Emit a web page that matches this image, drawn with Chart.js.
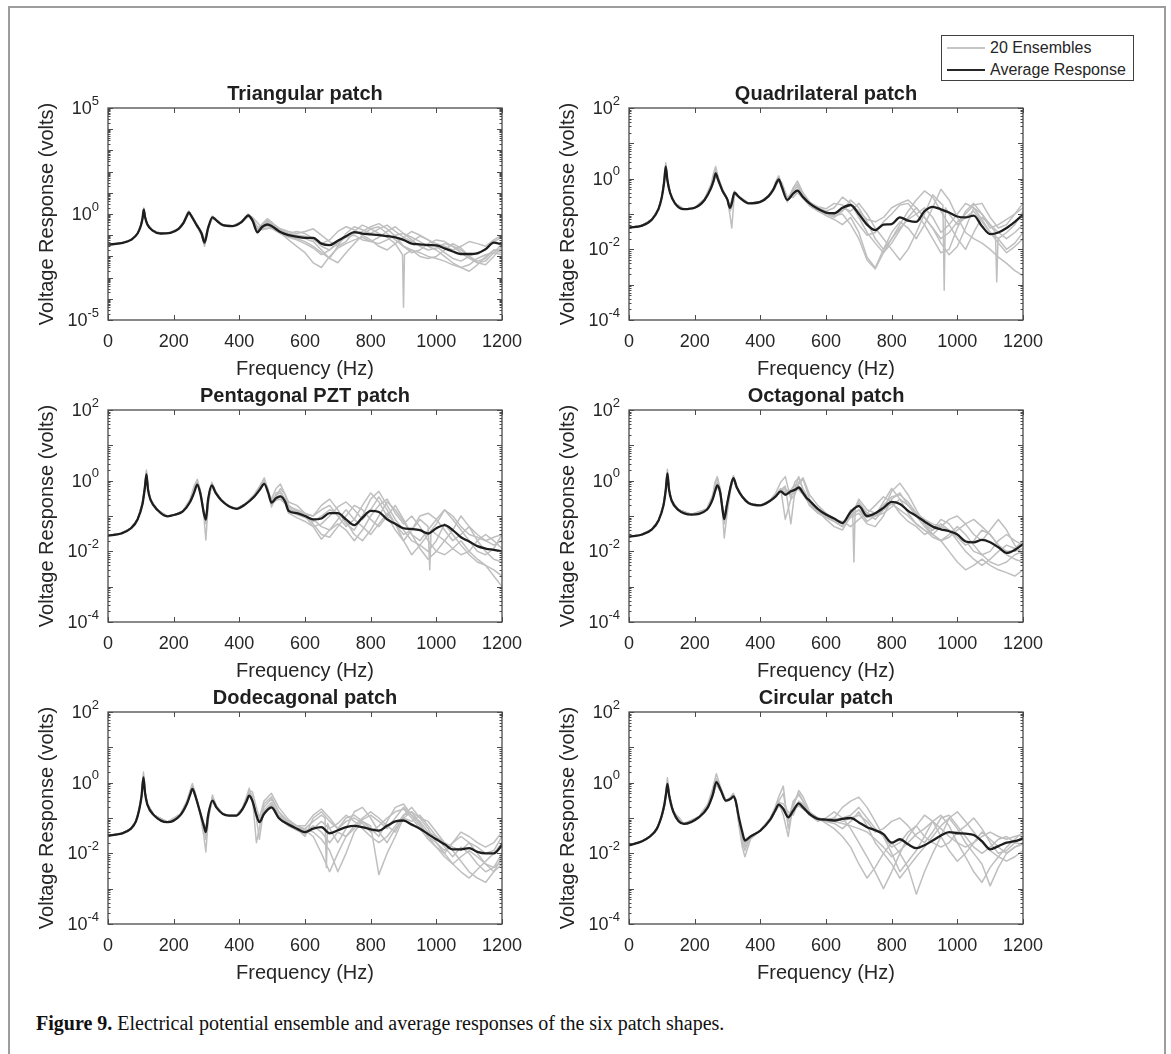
<!DOCTYPE html>
<html>
<head>
<meta charset="utf-8">
<title>Figure 9 – ensemble and average voltage responses</title>
<script src="https://cdn.jsdelivr.net/npm/chart.js@4.4.1/dist/chart.umd.min.js"></script>
<style>
  html, body { margin:0; padding:0; background:#fff; }
  body { position:relative; width:1171px; height:1054px; overflow:hidden; font-family:"Liberation Sans", Arial, sans-serif; color:#262626; }
  #frame { position:absolute; left:8px; top:6px; width:1158px; height:1100px; border:2px solid #9d9d9d; box-sizing:border-box; }
  canvas.panel { position:absolute; }
  #legend { position:absolute; left:941px; top:35px; width:193px; height:46px; border:1px solid #404040; background:#fff; box-sizing:border-box; z-index:5; }
  #legend .row { position:absolute; left:0; width:100%; height:20px; }
  #legend .swatch { position:absolute; left:5px; width:38px; top:9px; height:2px; }
  #legend .label { position:absolute; left:48px; top:0; line-height:20px; font-size:16px; white-space:nowrap; color:#262626; }
  #caption { position:absolute; left:36px; top:1011px; line-height:24px; font-family:"Liberation Serif", "Times New Roman", serif; font-size:20px; color:#111; white-space:nowrap; }
</style>
</head>
<body>
<div id="frame"></div>
<div id="legend">
  <div class="row" style="top:2px"><div class="swatch" style="background:#c6c6c6"></div><div class="label">20 Ensembles</div></div>
  <div class="row" style="top:24px"><div class="swatch" style="background:#262626"></div><div class="label">Average Response</div></div>
</div>
<div id="caption"><b>Figure 9.</b> Electrical potential ensemble and average responses of the six patch shapes.</div>
<script>
// ---------- frequency axis ----------
const xTicks = [0, 200, 400, 600, 800, 1000, 1200];
const highFreq = [550,575,600,625,650,675,700,725,750,775,800,825,850,875,900,925,950,975,1000,1025,1050,1075,1100,1125,1150,1175,1200];

// ---------- Triangular patch ----------
const triFreq = [0,40,70,90,100,105,109,113,120,135,160,190,215,230,240,246,255,270,285,294,305,318,330,350,380,405,418,427,440,455,470,485,500,525, ...highFreq, 897,903];
const triAvg = [0.036,0.042,0.06,0.12,0.28,0.6,1.6,0.7,0.32,0.17,0.12,0.13,0.2,0.38,0.8,1.2,0.75,0.3,0.12,0.045,0.22,0.7,0.5,0.3,0.27,0.4,0.65,0.85,0.5,0.14,0.25,0.32,0.26,0.14,
  0.1,0.085,0.075,0.075,0.04,0.034,0.055,0.09,0.14,0.12,0.11,0.1,0.09,0.08,0.06,0.04,0.037,0.034,0.033,0.024,0.017,0.013,0.013,0.014,0.022,0.045,0.036];
const triEns1 = [0.036,0.042,0.06,0.12,0.3,0.7,1.9,0.75,0.33,0.17,0.12,0.13,0.21,0.42,1.0,1.4,0.8,0.3,0.11,0.035,0.2,0.75,0.52,0.3,0.27,0.42,0.7,1.0,0.55,0.16,0.3,0.45,0.3,0.15,
  0.11,0.09,0.07,0.05,0.02,0.008,0.03,0.12,0.25,0.18,0.12,0.2,0.3,0.15,0.08,0.05,0.09,0.06,0.03,0.015,0.008,0.006,0.01,0.015,0.02,0.05,0.08];
const triEns2 = [0.036,0.042,0.06,0.12,0.27,0.55,1.5,0.72,0.32,0.17,0.12,0.13,0.2,0.36,0.75,1.1,0.8,0.32,0.13,0.05,0.24,0.65,0.5,0.31,0.27,0.38,0.6,0.8,0.6,0.25,0.18,0.22,0.2,0.12,
  0.08,0.06,0.04,0.025,0.012,0.02,0.05,0.09,0.12,0.15,0.25,0.35,0.2,0.09,0.03,0.015,0.02,0.04,0.06,0.05,0.03,0.02,0.01,0.005,0.004,0.01,0.03];
const triEns3 = [0.036,0.042,0.06,0.12,0.29,0.65,1.7,0.7,0.32,0.17,0.12,0.13,0.2,0.4,0.9,1.3,0.7,0.28,0.1,0.03,0.2,0.8,0.55,0.3,0.28,0.42,0.7,0.9,0.45,0.12,0.3,0.5,0.35,0.2,
  0.15,0.12,0.15,0.2,0.1,0.05,0.03,0.05,0.15,0.3,0.2,0.12,0.08,0.04,0.00004,0.02,0.01,0.008,0.01,0.02,0.04,0.025,0.01,0.006,0.008,0.02,0.02, 0.012,0.012];
const triEns4 = [0.036,0.042,0.06,0.12,0.28,0.6,1.6,0.68,0.31,0.17,0.12,0.13,0.19,0.35,0.7,1.15,0.85,0.35,0.14,0.06,0.25,0.6,0.5,0.31,0.27,0.37,0.55,0.75,0.7,0.4,0.2,0.2,0.25,0.13,
  0.06,0.03,0.015,0.005,0.003,0.01,0.025,0.04,0.06,0.08,0.05,0.04,0.06,0.1,0.12,0.08,0.05,0.03,0.02,0.01,0.005,0.003,0.002,0.004,0.01,0.02,0.015];
const triEns5 = [0.036,0.042,0.06,0.12,0.3,0.65,1.8,0.72,0.32,0.17,0.12,0.13,0.21,0.4,0.85,1.3,0.78,0.29,0.11,0.04,0.21,0.72,0.5,0.3,0.27,0.41,0.68,0.95,0.5,0.18,0.35,0.6,0.4,0.18,
  0.12,0.1,0.09,0.06,0.04,0.06,0.15,0.25,0.18,0.1,0.06,0.03,0.02,0.04,0.08,0.15,0.1,0.06,0.04,0.03,0.02,0.03,0.05,0.04,0.03,0.06,0.1];
const triEns6 = [0.036,0.042,0.06,0.12,0.27,0.58,1.5,0.7,0.32,0.17,0.12,0.13,0.2,0.37,0.78,1.2,0.76,0.31,0.12,0.05,0.23,0.68,0.5,0.3,0.27,0.4,0.62,0.82,0.52,0.2,0.22,0.28,0.24,0.13,
  0.09,0.07,0.05,0.03,0.015,0.008,0.005,0.015,0.04,0.1,0.2,0.25,0.12,0.06,0.03,0.02,0.015,0.01,0.008,0.006,0.004,0.003,0.004,0.008,0.012,0.015,0.012];
const triEns7 = [0.036,0.042,0.06,0.12,0.29,0.62,1.7,0.71,0.32,0.17,0.12,0.13,0.2,0.39,0.82,1.25,0.74,0.3,0.12,0.042,0.22,0.72,0.5,0.3,0.27,0.4,0.66,0.88,0.5,0.15,0.28,0.38,0.3,0.16,
  0.12,0.15,0.12,0.07,0.03,0.02,0.04,0.08,0.1,0.06,0.05,0.08,0.15,0.25,0.12,0.06,0.03,0.02,0.025,0.04,0.03,0.015,0.008,0.005,0.006,0.015,0.04];

// ---------- Quadrilateral patch ----------
const quadFreq = [0,40,70,90,100,107,112,117,125,140,167,200,230,250,258,264,272,285,300,307,313,321,335,365,400,425,440,450,456,465,482,500,513,530, ...highFreq, 956,960,964,1116,1120,1124];
const quadAvg = [0.041,0.047,0.07,0.14,0.3,0.8,2.2,0.9,0.4,0.2,0.137,0.15,0.25,0.55,0.9,1.4,0.9,0.45,0.25,0.15,0.2,0.4,0.3,0.2,0.22,0.32,0.5,0.8,0.95,0.6,0.25,0.38,0.46,0.3,
  0.2,0.14,0.11,0.105,0.15,0.18,0.1,0.05,0.035,0.05,0.052,0.08,0.065,0.06,0.12,0.16,0.135,0.11,0.085,0.08,0.09,0.045,0.027,0.03,0.04,0.06,0.095];
const quadEns1 = [0.041,0.047,0.07,0.14,0.32,0.9,2.8,0.95,0.4,0.2,0.137,0.15,0.26,0.6,1.1,1.8,1.0,0.45,0.24,0.12,0.15,0.45,0.32,0.2,0.22,0.33,0.55,0.95,1.2,0.7,0.28,0.45,0.6,0.35,
  0.2,0.14,0.1,0.08,0.12,0.25,0.15,0.06,0.02,0.01,0.02,0.05,0.12,0.25,0.45,0.3,0.12,0.05,0.02,0.01,0.03,0.08,0.05,0.03,0.02,0.03,0.05];
const quadEns2 = [0.041,0.047,0.07,0.14,0.29,0.75,2.0,0.88,0.4,0.2,0.137,0.15,0.27,0.7,1.5,2.2,1.1,0.5,0.26,0.1,0.04,0.35,0.3,0.2,0.22,0.31,0.45,0.7,0.85,0.8,0.3,0.3,0.4,0.28,
  0.17,0.12,0.09,0.07,0.05,0.08,0.03,0.006,0.003,0.01,0.03,0.06,0.04,0.02,0.05,0.15,0.5,0.25,0.08,0.03,0.02,0.015,0.01,0.006,0.004,0.0025,0.0018];
const quadEns3 = [0.041,0.047,0.07,0.14,0.31,0.85,2.5,0.92,0.4,0.2,0.137,0.15,0.25,0.52,0.85,1.3,0.95,0.47,0.26,0.18,0.25,0.42,0.3,0.2,0.22,0.32,0.52,0.85,1.0,0.55,0.22,0.55,0.85,0.4,
  0.22,0.15,0.12,0.15,0.3,0.2,0.08,0.03,0.015,0.008,0.015,0.035,0.08,0.15,0.08,0.04,0.015,0.007,0.012,0.04,0.15,0.1,0.04,0.05,0.07,0.1,0.15];
const quadEns4 = [0.041,0.047,0.07,0.14,0.3,0.8,2.1,0.9,0.4,0.2,0.137,0.15,0.24,0.5,0.8,1.2,0.85,0.43,0.25,0.14,0.18,0.38,0.3,0.2,0.22,0.3,0.48,0.75,0.9,0.6,0.24,0.35,0.45,0.3,
  0.19,0.13,0.1,0.09,0.1,0.05,0.02,0.005,0.0028,0.008,0.02,0.04,0.07,0.1,0.15,0.08,0.03,0.05,0.1,0.2,0.15,0.07,0.03,0.02,0.03,0.05,0.12];
const quadEns5 = [0.041,0.047,0.07,0.14,0.31,0.85,2.4,0.9,0.4,0.2,0.137,0.15,0.26,0.58,1.0,1.6,0.95,0.45,0.25,0.13,0.2,0.4,0.3,0.2,0.22,0.32,0.5,0.85,1.1,0.65,0.26,0.5,0.7,0.33,
  0.21,0.16,0.14,0.2,0.18,0.1,0.05,0.025,0.03,0.06,0.1,0.18,0.2,0.1,0.05,0.02,0.008,0.01,0.04,0.12,0.2,0.1,0.05,0.02,0.01,0.015,0.03, null,null,null,0.03,0.0012,0.02];
const quadEns6 = [0.041,0.047,0.07,0.14,0.3,0.78,2.2,0.9,0.4,0.2,0.137,0.15,0.25,0.56,0.95,1.45,0.9,0.45,0.25,0.15,0.2,0.4,0.3,0.2,0.22,0.32,0.5,0.8,0.95,0.6,0.25,0.38,0.46,0.3,
  0.2,0.14,0.11,0.1,0.15,0.12,0.2,0.1,0.04,0.02,0.01,0.005,0.01,0.03,0.1,0.35,0.2,0.1,0.05,0.08,0.12,0.06,0.03,0.015,0.008,0.012,0.02, 0.18,0.0007,0.15];
const quadEns7 = [0.041,0.047,0.07,0.14,0.3,0.82,2.3,0.9,0.4,0.2,0.137,0.15,0.25,0.55,0.9,1.4,0.9,0.45,0.25,0.16,0.22,0.4,0.3,0.2,0.22,0.31,0.5,0.82,0.97,0.6,0.25,0.4,0.5,0.31,
  0.2,0.14,0.11,0.1,0.13,0.18,0.12,0.07,0.06,0.08,0.15,0.2,0.25,0.15,0.08,0.04,0.02,0.03,0.06,0.1,0.18,0.2,0.08,0.04,0.05,0.1,0.2];

// ---------- Pentagonal PZT patch ----------
const pentFreq = [0,40,70,90,105,112,117,122,130,150,181,205,228,250,262,272,282,292,298,305,316,328,345,368,391,420,445,462,476,488,498,512,525,540, ...highFreq, 976,980,984];
const pentAvg = [0.028,0.032,0.045,0.08,0.22,0.6,1.5,0.55,0.28,0.15,0.098,0.11,0.135,0.25,0.45,0.77,0.4,0.12,0.079,0.3,0.73,0.45,0.28,0.19,0.16,0.22,0.35,0.55,0.81,0.45,0.24,0.32,0.36,0.25,
  0.14,0.12,0.1,0.08,0.085,0.12,0.12,0.08,0.055,0.09,0.14,0.13,0.08,0.06,0.045,0.043,0.04,0.032,0.045,0.055,0.04,0.025,0.019,0.014,0.012,0.011,0.01];
const pentEns1 = [0.028,0.032,0.045,0.08,0.24,0.7,2.0,0.6,0.29,0.15,0.098,0.11,0.14,0.3,0.7,1.1,0.5,0.13,0.06,0.25,0.85,0.5,0.29,0.19,0.16,0.22,0.38,0.65,1.1,0.55,0.2,0.45,0.5,0.3,
  0.18,0.15,0.12,0.1,0.2,0.3,0.15,0.06,0.04,0.1,0.3,0.5,0.2,0.08,0.04,0.02,0.015,0.01,0.02,0.06,0.03,0.015,0.008,0.005,0.004,0.003,0.002];
const pentEns2 = [0.028,0.032,0.045,0.08,0.21,0.55,1.4,0.55,0.28,0.15,0.098,0.11,0.135,0.28,0.6,1.0,0.45,0.1,0.021,0.2,0.9,0.5,0.28,0.19,0.16,0.23,0.4,0.7,1.2,0.5,0.18,0.35,0.6,0.4,
  0.25,0.2,0.12,0.06,0.03,0.025,0.05,0.1,0.2,0.15,0.08,0.05,0.1,0.2,0.08,0.03,0.012,0.006,0.01,0.02,0.04,0.1,0.05,0.02,0.01,0.006,0.005];
const pentEns3 = [0.028,0.032,0.045,0.08,0.23,0.65,1.8,0.58,0.28,0.15,0.098,0.11,0.135,0.26,0.5,0.85,0.42,0.13,0.09,0.32,0.8,0.46,0.28,0.19,0.16,0.22,0.36,0.6,0.95,0.48,0.3,0.6,0.8,0.4,
  0.2,0.14,0.1,0.05,0.022,0.04,0.08,0.15,0.08,0.05,0.03,0.06,0.12,0.06,0.03,0.04,0.08,0.05,0.03,0.02,0.012,0.008,0.01,0.02,0.03,0.02,0.012, 0.05,0.003,0.04];
const pentEns4 = [0.028,0.032,0.045,0.08,0.22,0.6,1.6,0.56,0.28,0.15,0.098,0.11,0.135,0.27,0.55,0.95,0.45,0.12,0.07,0.3,0.75,0.45,0.28,0.19,0.16,0.22,0.37,0.62,1.0,0.5,0.22,0.28,0.3,0.22,
  0.12,0.09,0.07,0.05,0.06,0.1,0.18,0.25,0.15,0.08,0.15,0.35,0.15,0.06,0.02,0.008,0.015,0.03,0.06,0.15,0.08,0.04,0.02,0.01,0.008,0.012,0.03];
const pentEns5 = [0.028,0.032,0.045,0.08,0.22,0.62,1.7,0.57,0.28,0.15,0.098,0.11,0.135,0.25,0.48,0.8,0.42,0.12,0.08,0.3,0.72,0.45,0.28,0.19,0.16,0.22,0.35,0.58,0.9,0.48,0.25,0.33,0.38,0.26,
  0.15,0.12,0.1,0.08,0.05,0.04,0.06,0.04,0.02,0.04,0.1,0.2,0.3,0.12,0.06,0.1,0.05,0.02,0.01,0.008,0.012,0.02,0.01,0.006,0.004,0.002,0.001];
const pentEns6 = [0.028,0.032,0.045,0.08,0.22,0.58,1.45,0.55,0.28,0.15,0.098,0.11,0.135,0.26,0.52,0.9,0.44,0.12,0.075,0.3,0.78,0.46,0.28,0.19,0.16,0.22,0.36,0.6,0.95,0.5,0.26,0.4,0.45,0.28,
  0.16,0.13,0.11,0.1,0.15,0.2,0.1,0.05,0.08,0.2,0.45,0.25,0.1,0.04,0.02,0.04,0.1,0.12,0.08,0.04,0.02,0.03,0.05,0.03,0.02,0.015,0.02];
const pentEns7 = [0.028,0.032,0.045,0.08,0.22,0.6,1.55,0.55,0.28,0.15,0.098,0.11,0.135,0.25,0.47,0.78,0.42,0.12,0.08,0.3,0.74,0.45,0.28,0.19,0.16,0.22,0.35,0.56,0.85,0.46,0.24,0.3,0.35,0.25,
  0.14,0.11,0.09,0.07,0.1,0.15,0.12,0.07,0.03,0.02,0.04,0.1,0.25,0.15,0.07,0.03,0.02,0.04,0.08,0.15,0.1,0.05,0.03,0.025,0.02,0.025,0.03];

// ---------- Octagonal patch ----------
const octFreq = [0,40,70,90,105,112,117,122,130,150,190,237,255,262,269,278,285,290,298,310,318,328,345,365,400,430,447,462,476,493,505,517,530,540, ...highFreq, 681,685,689];
const octAvg = [0.026,0.03,0.042,0.075,0.2,0.55,1.6,0.55,0.27,0.15,0.11,0.15,0.3,0.5,0.73,0.45,0.15,0.082,0.2,0.7,1.18,0.65,0.35,0.23,0.2,0.27,0.36,0.5,0.4,0.5,0.55,0.64,0.45,0.33,
  0.27,0.16,0.11,0.085,0.063,0.13,0.19,0.1,0.12,0.17,0.25,0.22,0.14,0.1,0.07,0.05,0.042,0.037,0.03,0.019,0.018,0.021,0.018,0.013,0.009,0.011,0.016];
const octEns1 = [0.026,0.03,0.042,0.075,0.22,0.65,2.1,0.6,0.28,0.15,0.11,0.16,0.4,0.8,1.2,0.6,0.18,0.06,0.15,0.8,1.4,0.7,0.36,0.23,0.2,0.28,0.45,0.9,1.3,0.3,0.4,0.8,1.1,0.6,
  0.3,0.15,0.1,0.07,0.05,0.1,0.25,0.12,0.08,0.15,0.5,0.85,0.4,0.15,0.06,0.03,0.02,0.01,0.005,0.003,0.004,0.006,0.004,0.003,0.0025,0.002,0.003];
const octEns2 = [0.026,0.03,0.042,0.075,0.2,0.55,1.5,0.55,0.27,0.15,0.11,0.15,0.35,0.9,1.3,0.5,0.12,0.024,0.1,0.6,1.2,0.66,0.35,0.23,0.2,0.27,0.4,0.6,0.08,0.3,0.9,1.2,0.6,0.4,
  0.25,0.14,0.08,0.05,0.04,0.1,0.15,0.07,0.1,0.25,0.6,0.3,0.12,0.06,0.04,0.03,0.02,0.03,0.05,0.03,0.015,0.008,0.005,0.004,0.005,0.008,0.01];
const octEns3 = [0.026,0.03,0.042,0.075,0.21,0.6,1.8,0.57,0.27,0.15,0.11,0.15,0.32,0.6,0.9,0.5,0.17,0.1,0.22,0.75,1.3,0.68,0.35,0.23,0.2,0.27,0.38,0.55,0.7,0.06,0.5,0.9,1.2,0.7,
  0.4,0.2,0.12,0.08,0.06,0.09,0.12,0.06,0.05,0.1,0.3,0.45,0.2,0.1,0.05,0.03,0.05,0.08,0.1,0.06,0.03,0.02,0.04,0.08,0.04,0.015,0.008];
const octEns4 = [0.026,0.03,0.042,0.075,0.2,0.55,1.55,0.55,0.27,0.15,0.11,0.15,0.3,0.55,0.8,0.48,0.16,0.09,0.21,0.72,1.2,0.66,0.35,0.23,0.2,0.27,0.37,0.5,0.45,0.5,0.6,1.3,0.5,0.35,
  0.2,0.12,0.09,0.07,0.05,0.15,0.3,0.15,0.12,0.2,0.35,0.4,0.25,0.12,0.06,0.04,0.06,0.04,0.02,0.01,0.006,0.004,0.006,0.01,0.015,0.012,0.02, 0.15,0.005,0.17];
const octEns5 = [0.026,0.03,0.042,0.075,0.21,0.58,1.7,0.56,0.27,0.15,0.11,0.15,0.31,0.58,0.85,0.5,0.16,0.08,0.2,0.72,1.25,0.67,0.35,0.23,0.2,0.27,0.37,0.52,0.6,0.4,0.45,0.7,0.5,0.35,
  0.22,0.14,0.1,0.08,0.07,0.05,0.08,0.12,0.2,0.35,0.25,0.12,0.07,0.05,0.03,0.04,0.08,0.06,0.03,0.02,0.01,0.008,0.01,0.02,0.03,0.02,0.015];
const octEns6 = [0.026,0.03,0.042,0.075,0.2,0.56,1.6,0.55,0.27,0.15,0.11,0.15,0.3,0.52,0.75,0.46,0.15,0.085,0.2,0.7,1.15,0.65,0.35,0.23,0.2,0.27,0.36,0.48,0.42,0.45,0.5,0.6,0.45,0.32,
  0.25,0.15,0.1,0.08,0.06,0.11,0.15,0.09,0.1,0.15,0.22,0.15,0.1,0.06,0.04,0.025,0.02,0.025,0.04,0.06,0.08,0.05,0.03,0.015,0.008,0.006,0.005];
const octEns7 = [0.026,0.03,0.042,0.075,0.2,0.54,1.5,0.54,0.27,0.15,0.11,0.15,0.3,0.5,0.7,0.44,0.15,0.09,0.2,0.68,1.1,0.64,0.35,0.23,0.2,0.27,0.36,0.5,0.5,0.55,0.8,0.55,0.4,0.3,
  0.2,0.13,0.1,0.08,0.06,0.14,0.22,0.12,0.1,0.12,0.18,0.3,0.2,0.12,0.08,0.06,0.05,0.04,0.025,0.015,0.02,0.04,0.03,0.015,0.01,0.01,0.012];

// ---------- Dodecagonal patch ----------
const dodFreq = [0,40,70,85,95,102,108,113,120,140,181,220,240,250,257,265,280,292,298,305,318,330,350,368,391,410,422,430,440,452,461,475,498,520, ...highFreq, 661,665,669];
const dodAvg = [0.032,0.036,0.05,0.08,0.17,0.4,1.4,0.5,0.24,0.12,0.076,0.12,0.25,0.45,0.67,0.45,0.15,0.06,0.04,0.12,0.31,0.2,0.13,0.117,0.117,0.18,0.3,0.43,0.3,0.12,0.076,0.13,0.2,0.1,
  0.065,0.05,0.04,0.05,0.055,0.037,0.045,0.055,0.06,0.055,0.048,0.044,0.06,0.08,0.085,0.065,0.05,0.035,0.025,0.018,0.013,0.013,0.014,0.011,0.01,0.01,0.017];
const dodEns1 = [0.032,0.036,0.05,0.08,0.18,0.45,2.0,0.55,0.25,0.12,0.076,0.13,0.3,0.6,0.95,0.55,0.14,0.03,0.011,0.08,0.45,0.22,0.13,0.117,0.117,0.2,0.4,0.7,0.35,0.02,0.05,0.25,0.4,0.15,
  0.08,0.05,0.03,0.1,0.15,0.08,0.05,0.1,0.12,0.08,0.05,0.03,0.08,0.2,0.25,0.12,0.06,0.03,0.02,0.01,0.005,0.003,0.002,0.0035,0.006,0.01,0.02];
const dodEns2 = [0.032,0.036,0.05,0.08,0.17,0.38,1.3,0.5,0.24,0.12,0.076,0.12,0.28,0.55,0.8,0.5,0.16,0.07,0.05,0.14,0.35,0.21,0.13,0.117,0.117,0.19,0.35,0.6,0.55,0.2,0.1,0.3,0.5,0.2,
  0.09,0.06,0.045,0.03,0.01,0.003,0.01,0.03,0.06,0.1,0.15,0.1,0.06,0.04,0.12,0.2,0.1,0.05,0.02,0.012,0.02,0.03,0.02,0.01,0.005,0.003,0.005];
const dodEns3 = [0.032,0.036,0.05,0.08,0.17,0.42,1.6,0.52,0.24,0.12,0.076,0.12,0.26,0.5,0.75,0.48,0.15,0.05,0.025,0.1,0.38,0.22,0.13,0.117,0.117,0.19,0.33,0.55,0.4,0.1,0.025,0.2,0.35,0.15,
  0.07,0.05,0.05,0.08,0.12,0.05,0.02,0.05,0.15,0.2,0.1,0.04,0.02,0.05,0.1,0.08,0.12,0.06,0.03,0.015,0.008,0.015,0.01,0.005,0.003,0.004,0.01, 0.1,0.004,0.07];
const dodEns4 = [0.032,0.036,0.05,0.08,0.17,0.4,1.4,0.5,0.24,0.12,0.076,0.12,0.26,0.48,0.7,0.46,0.15,0.06,0.04,0.12,0.33,0.2,0.13,0.117,0.117,0.18,0.32,0.5,0.32,0.12,0.08,0.14,0.22,0.11,
  0.07,0.06,0.05,0.04,0.025,0.012,0.003,0.01,0.04,0.08,0.06,0.0025,0.01,0.03,0.1,0.15,0.1,0.08,0.04,0.02,0.012,0.006,0.003,0.002,0.0015,0.003,0.008];
const dodEns5 = [0.032,0.036,0.05,0.08,0.17,0.4,1.5,0.51,0.24,0.12,0.076,0.12,0.25,0.46,0.68,0.45,0.15,0.06,0.045,0.12,0.32,0.2,0.13,0.117,0.117,0.18,0.31,0.46,0.31,0.13,0.08,0.16,0.28,0.12,
  0.08,0.06,0.06,0.12,0.18,0.1,0.05,0.08,0.1,0.07,0.04,0.06,0.1,0.15,0.18,0.1,0.05,0.025,0.015,0.01,0.02,0.04,0.03,0.02,0.015,0.02,0.04];
const dodEns6 = [0.032,0.036,0.05,0.08,0.17,0.41,1.45,0.5,0.24,0.12,0.076,0.12,0.26,0.47,0.7,0.46,0.15,0.06,0.042,0.12,0.32,0.2,0.13,0.117,0.117,0.18,0.31,0.45,0.3,0.12,0.077,0.14,0.24,0.11,
  0.06,0.045,0.035,0.05,0.08,0.05,0.07,0.12,0.08,0.05,0.03,0.02,0.03,0.06,0.12,0.15,0.07,0.03,0.015,0.008,0.005,0.008,0.012,0.008,0.005,0.004,0.006];
const dodEns7 = [0.032,0.036,0.05,0.08,0.17,0.39,1.35,0.5,0.24,0.12,0.076,0.12,0.25,0.45,0.66,0.45,0.15,0.06,0.04,0.12,0.3,0.2,0.13,0.117,0.117,0.18,0.3,0.42,0.3,0.12,0.076,0.13,0.2,0.1,
  0.06,0.05,0.04,0.06,0.04,0.02,0.04,0.03,0.05,0.09,0.12,0.08,0.05,0.1,0.2,0.12,0.08,0.04,0.03,0.02,0.015,0.012,0.02,0.015,0.01,0.012,0.03];

// ---------- Circular patch ----------
const circFreq = [0,40,62,85,100,108,113,117,122,135,167,213,240,255,266,280,295,310,318,325,335,345,353,370,400,430,445,456,470,485,500,517,530,540, ...highFreq];
const circAvg = [0.017,0.022,0.029,0.05,0.12,0.25,0.5,0.93,0.45,0.15,0.068,0.105,0.2,0.45,1.04,0.6,0.31,0.35,0.41,0.3,0.1,0.04,0.023,0.03,0.044,0.09,0.16,0.24,0.18,0.105,0.16,0.26,0.2,0.16,
  0.13,0.095,0.09,0.085,0.095,0.1,0.075,0.055,0.045,0.035,0.02,0.025,0.018,0.014,0.017,0.023,0.032,0.04,0.037,0.036,0.033,0.022,0.013,0.016,0.02,0.022,0.026];
const circEns1 = [0.017,0.022,0.029,0.05,0.12,0.26,0.65,1.37,0.5,0.15,0.068,0.11,0.25,0.7,1.8,0.7,0.3,0.4,0.5,0.35,0.06,0.015,0.008,0.025,0.045,0.1,0.2,0.4,0.8,0.05,0.2,0.6,0.4,0.25,
  0.15,0.1,0.08,0.1,0.2,0.3,0.39,0.2,0.08,0.03,0.01,0.003,0.006,0.012,0.03,0.08,0.12,0.06,0.02,0.008,0.003,0.0015,0.004,0.008,0.015,0.025,0.04];
const circEns2 = [0.017,0.022,0.029,0.05,0.11,0.23,0.52,1.0,0.46,0.15,0.068,0.105,0.22,0.55,1.3,0.65,0.32,0.37,0.45,0.32,0.07,0.02,0.012,0.028,0.044,0.09,0.18,0.3,0.12,0.03,0.25,0.5,0.3,0.2,
  0.14,0.1,0.07,0.05,0.03,0.015,0.005,0.002,0.004,0.01,0.02,0.01,0.004,0.0007,0.003,0.01,0.03,0.1,0.15,0.08,0.04,0.02,0.012,0.008,0.006,0.008,0.012];
const circEns3 = [0.017,0.022,0.029,0.05,0.11,0.22,0.5,0.95,0.45,0.15,0.068,0.105,0.21,0.5,1.2,0.62,0.3,0.36,0.42,0.3,0.08,0.025,0.015,0.028,0.044,0.09,0.17,0.28,0.25,0.15,0.12,0.3,0.25,0.18,
  0.12,0.08,0.1,0.15,0.1,0.05,0.02,0.008,0.003,0.001,0.003,0.01,0.03,0.06,0.12,0.08,0.03,0.012,0.006,0.01,0.02,0.04,0.025,0.015,0.01,0.015,0.02];
const circEns4 = [0.017,0.022,0.029,0.05,0.11,0.22,0.48,0.9,0.44,0.15,0.068,0.105,0.2,0.42,0.9,0.55,0.29,0.34,0.4,0.3,0.09,0.035,0.025,0.03,0.044,0.085,0.15,0.22,0.2,0.12,0.18,0.22,0.18,0.15,
  0.12,0.09,0.08,0.07,0.05,0.08,0.15,0.06,0.02,0.01,0.005,0.002,0.004,0.008,0.015,0.03,0.06,0.1,0.05,0.02,0.01,0.005,0.0012,0.004,0.01,0.015,0.018];
const circEns5 = [0.017,0.022,0.029,0.05,0.11,0.23,0.55,1.1,0.47,0.15,0.068,0.105,0.21,0.5,1.1,0.6,0.31,0.36,0.43,0.3,0.07,0.025,0.018,0.03,0.044,0.09,0.17,0.3,0.5,0.08,0.3,0.45,0.3,0.2,
  0.13,0.1,0.09,0.1,0.08,0.1,0.12,0.08,0.04,0.05,0.08,0.1,0.06,0.03,0.02,0.04,0.1,0.12,0.06,0.03,0.015,0.01,0.015,0.025,0.03,0.02,0.018];
const circEns6 = [0.017,0.022,0.029,0.05,0.11,0.22,0.5,0.92,0.45,0.15,0.068,0.105,0.2,0.44,1.0,0.58,0.3,0.35,0.4,0.3,0.08,0.03,0.02,0.03,0.044,0.09,0.16,0.24,0.18,0.1,0.16,0.26,0.2,0.16,
  0.13,0.1,0.09,0.09,0.1,0.12,0.2,0.1,0.05,0.03,0.015,0.02,0.04,0.06,0.03,0.02,0.015,0.02,0.04,0.06,0.1,0.05,0.02,0.01,0.012,0.02,0.03];
const circEns7 = [0.017,0.022,0.029,0.05,0.11,0.22,0.49,0.9,0.44,0.15,0.068,0.105,0.2,0.43,0.95,0.56,0.3,0.35,0.4,0.3,0.085,0.032,0.022,0.03,0.044,0.088,0.15,0.22,0.17,0.1,0.15,0.24,0.19,0.15,
  0.12,0.09,0.085,0.08,0.07,0.06,0.05,0.04,0.025,0.015,0.008,0.012,0.02,0.035,0.05,0.08,0.05,0.03,0.02,0.015,0.02,0.03,0.04,0.03,0.025,0.03,0.035];

// ---------- y-axis decades ----------
const wideTicks = [1e-5, 1, 1e5];
const narrowTicks = [1e-4, 1e-2, 1, 1e2];

const FONT = '"Liberation Sans", Arial, Helvetica, sans-serif';
const TEXT = '#262626';

// panel placement: left edge and top edge of each plot box (px)
const panels = [
  { title:'Triangular patch',     freq:triFreq,  avg:triAvg,  ens:[triEns1,triEns2,triEns3,triEns4,triEns5,triEns6,triEns7],  yMin:1e-5, yMax:1e5, yTicks:wideTicks,   left:108, top:108 },
  { title:'Quadrilateral patch',  freq:quadFreq, avg:quadAvg, ens:[quadEns1,quadEns2,quadEns3,quadEns4,quadEns5,quadEns6,quadEns7], yMin:1e-4, yMax:1e2, yTicks:narrowTicks, left:629, top:108 },
  { title:'Pentagonal PZT patch', freq:pentFreq, avg:pentAvg, ens:[pentEns1,pentEns2,pentEns3,pentEns4,pentEns5,pentEns6,pentEns7], yMin:1e-4, yMax:1e2, yTicks:narrowTicks, left:108, top:410 },
  { title:'Octagonal patch',      freq:octFreq,  avg:octAvg,  ens:[octEns1,octEns2,octEns3,octEns4,octEns5,octEns6,octEns7],  yMin:1e-4, yMax:1e2, yTicks:narrowTicks, left:629, top:410 },
  { title:'Dodecagonal patch',    freq:dodFreq,  avg:dodAvg,  ens:[dodEns1,dodEns2,dodEns3,dodEns4,dodEns5,dodEns6,dodEns7],  yMin:1e-4, yMax:1e2, yTicks:narrowTicks, left:108, top:712 },
  { title:'Circular patch',       freq:circFreq, avg:circAvg, ens:[circEns1,circEns2,circEns3,circEns4,circEns5,circEns6,circEns7], yMin:1e-4, yMax:1e2, yTicks:narrowTicks, left:629, top:712 }
];

const PLOT_W = 394, PLOT_H = 212, Y_AXIS_W = 105, X_AXIS_H = 70, PAD_TOP = 40, PAD_RIGHT = 40;

// box around the axes, inward tick marks on all four sides, power-of-ten
// labels (base 10 with a raised exponent) and the panel title
const axesFrame = {
  id: 'axesFrame',
  afterDatasetsDraw(chart, args, opts) {
    const { ctx, chartArea: a, scales: { x, y } } = chart;
    ctx.save();
    ctx.strokeStyle = '#4a4a4a';
    ctx.lineWidth = 1;
    ctx.beginPath();
    x.ticks.forEach(t => {
      const px = Math.round(x.getPixelForValue(t.value)) + 0.5;
      ctx.moveTo(px, a.bottom); ctx.lineTo(px, a.bottom - 5);
      ctx.moveTo(px, a.top);    ctx.lineTo(px, a.top + 5);
    });
    const d0 = Math.round(Math.log10(y.min)), d1 = Math.round(Math.log10(y.max));
    for (let d = d0; d <= d1; d++) {
      for (let k = 1; k <= 9; k++) {
        if (d === d1 && k > 1) break;
        const py = Math.round(y.getPixelForValue(k * Math.pow(10, d))) + 0.5;
        const len = k === 1 ? 5 : 2.5;
        ctx.moveTo(a.left, py);  ctx.lineTo(a.left + len, py);
        ctx.moveTo(a.right, py); ctx.lineTo(a.right - len, py);
      }
    }
    ctx.stroke();
    ctx.lineWidth = 1.3;
    ctx.strokeRect(a.left, a.top, a.right - a.left, a.bottom - a.top);

    // decade labels
    ctx.fillStyle = TEXT;
    ctx.textAlign = 'left';
    ctx.textBaseline = 'middle';
    y.ticks.forEach(t => {
      const py = y.getPixelForValue(t.value);
      const exp = String(Math.round(Math.log10(t.value)));
      ctx.font = '13px ' + FONT;
      const ew = ctx.measureText(exp).width;
      ctx.font = '18px ' + FONT;
      const bw = ctx.measureText('10').width;
      const right = a.left - 9;
      ctx.fillText('10', right - ew - bw, py + 1);
      ctx.font = '13px ' + FONT;
      ctx.fillText(exp, right - ew, py - 7);
    });

    ctx.fillStyle = '#1f1f1f';
    ctx.font = 'bold 20px ' + FONT;
    ctx.textAlign = 'center';
    ctx.fillText(opts.text, (a.left + a.right) / 2, a.top - 14);
    ctx.restore();
  }
};

panels.forEach(p => {
  const cv = document.createElement('canvas');
  const w = Y_AXIS_W + PLOT_W + PAD_RIGHT, h = PAD_TOP + PLOT_H + X_AXIS_H;
  cv.width = w; cv.height = h;
  cv.className = 'panel';
  cv.style.width = w + 'px'; cv.style.height = h + 'px';
  cv.style.left = (p.left - Y_AXIS_W) + 'px';
  cv.style.top = (p.top - PAD_TOP) + 'px';
  document.body.appendChild(cv);

  const pts = arr => p.freq.map((f, i) => ({ x: f, y: arr[i] }))
    .filter(q => q.y != null)
    .sort((a, b) => a.x - b.x);

  const datasets = [{ label: 'Average Response', data: pts(p.avg), borderColor: '#1e1e1e', borderWidth: 2.3, cubicInterpolationMode: 'monotone' }]
    .concat(p.ens.map((e, i) => ({ label: 'Ensemble ' + (i + 1), data: pts(e), borderColor: '#bfbfbf', borderWidth: 1.5 })));

  new Chart(cv, {
    type: 'line',
    data: { datasets },
    options: {
      responsive: false,
      animation: false,
      devicePixelRatio: 1,
      events: [],
      layout: { padding: { left: 0, right: PAD_RIGHT, top: PAD_TOP, bottom: 0 } },
      elements: {
        point: { radius: 0 },
        line: { tension: 0, borderJoinStyle: 'round', borderCapStyle: 'round', fill: false }
      },
      plugins: {
        legend: { display: false },
        tooltip: { enabled: false },
        axesFrame: { text: p.title }
      },
      scales: {
        x: {
          type: 'linear', min: 0, max: 1200,
          afterFit: s => { s.height = X_AXIS_H; },
          afterBuildTicks: s => { s.ticks = xTicks.map(v => ({ value: v })); },
          ticks: { font: { size: 18, family: FONT }, color: TEXT, padding: 11, maxRotation: 0, autoSkip: false, callback: v => String(v) },
          grid: { display: false, drawTicks: false },
          border: { display: false },
          title: { display: true, text: 'Frequency (Hz)', font: { size: 20, family: FONT }, color: TEXT, padding: { top: 0, bottom: 9 } }
        },
        y: {
          type: 'logarithmic', min: p.yMin, max: p.yMax,
          afterFit: s => { s.width = Y_AXIS_W; },
          afterBuildTicks: s => { s.ticks = p.yTicks.map(v => ({ value: v })); },
          ticks: { display: false },
          grid: { display: false, drawTicks: false },
          border: { display: false },
          title: { display: true, text: 'Voltage Response (volts)', font: { size: 20, family: FONT }, color: TEXT, padding: { top: 32, bottom: 0 } }
        }
      }
    },
    plugins: [axesFrame]
  });
});
</script>
</body>
</html>
